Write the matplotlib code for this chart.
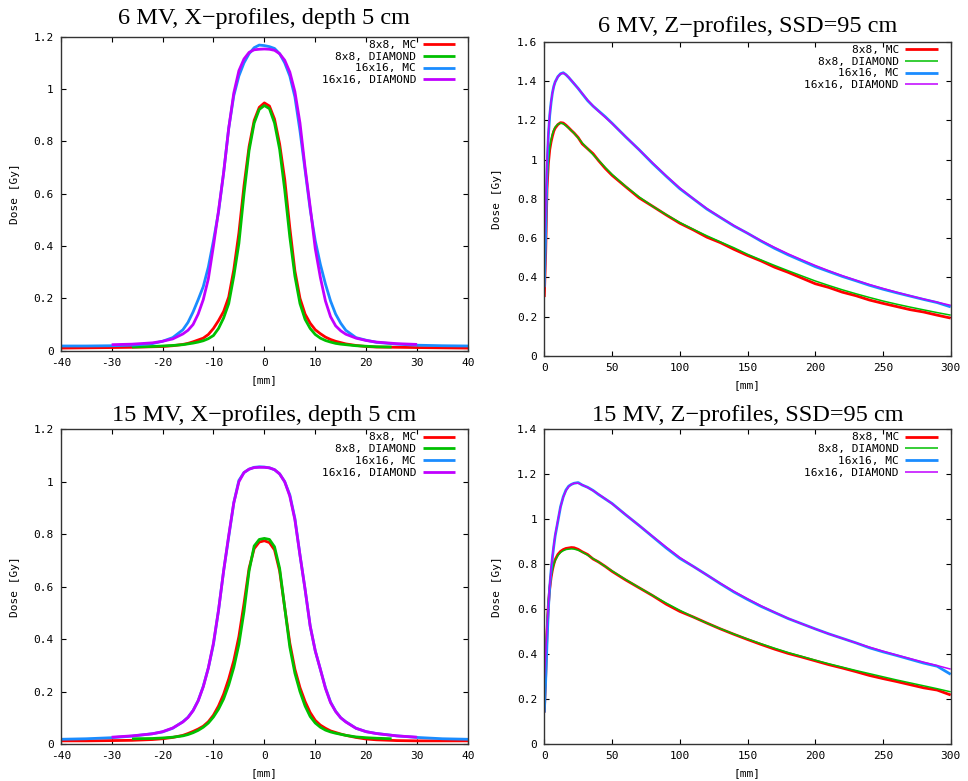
import numpy as np
import matplotlib
matplotlib.use("Agg")
import matplotlib.pyplot as plt
from matplotlib.ticker import FixedLocator, FuncFormatter

plt.rcParams['axes.unicode_minus'] = False

# ---------------- data ----------------
SERIES = ["8x8, MC", "8x8, DIAMOND", "16x16, MC", "16x16, DIAMOND"]
COLORS = ["#ff0000", "#00c000", "#1a8cff", "#c000ff"]

# X-profile grids (mm)
X_MC = [-40, -35, -30, -26, -22, -20, -18, -16, -15, -14, -13, -12, -11, -10, -9, -8, -7, -6, -5, -4, -3, -2, -1,
        0, 1, 2, 3, 4, 5, 6, 7, 8, 9, 10, 11, 12, 13, 14, 15, 16, 18, 20, 22, 26, 30, 35, 40]
X_DIA8 = [-26, -22, -20, -18, -16, -15, -14, -13, -12, -11, -10, -9, -8, -7, -6, -5, -4, -3, -2, -1,
          0, 1, 2, 3, 4, 5, 6, 7, 8, 9, 10, 11, 12, 13, 14, 15, 16, 18, 20, 22, 25]
X_DIA16 = [-30, -26, -22, -20, -18, -16, -15, -14, -13, -12, -11, -10, -9, -8, -7, -6, -5, -4, -3, -2, -1,
           0, 1, 2, 3, 4, 5, 6, 7, 8, 9, 10, 11, 12, 13, 14, 15, 16, 18, 20, 22, 26, 30]

# 6 MV X-profiles
x6_mc8 = [0.010, 0.011, 0.012, 0.013, 0.015, 0.016, 0.019, 0.024, 0.028, 0.034, 0.041, 0.048, 0.062, 0.085,
          0.115, 0.150, 0.205, 0.310, 0.450, 0.630, 0.780, 0.880, 0.930, 0.947, 0.935, 0.885, 0.790, 0.655,
          0.470, 0.305, 0.200, 0.140, 0.105, 0.080, 0.065, 0.052, 0.043, 0.036, 0.031, 0.026, 0.020, 0.016,
          0.014, 0.013, 0.012, 0.011, 0.010]
x6_dia8 = [0.014, 0.016, 0.018, 0.020, 0.023, 0.026, 0.029, 0.033, 0.038, 0.046, 0.058, 0.085, 0.125, 0.180,
           0.285, 0.410, 0.600, 0.765, 0.870, 0.922, 0.937, 0.925, 0.870, 0.770, 0.615, 0.435, 0.285, 0.180,
           0.120, 0.085, 0.062, 0.048, 0.039, 0.033, 0.028, 0.025, 0.023, 0.019, 0.017, 0.015, 0.014]
x6_mc16 = [0.018, 0.018, 0.019, 0.021, 0.027, 0.036, 0.050, 0.080, 0.108, 0.148, 0.195, 0.245, 0.320, 0.420,
           0.530, 0.680, 0.850, 0.975, 1.050, 1.100, 1.135, 1.158, 1.168, 1.166, 1.162, 1.155, 1.135, 1.100,
           1.050, 0.970, 0.840, 0.690, 0.540, 0.420, 0.330, 0.255, 0.190, 0.140, 0.105, 0.078, 0.050, 0.040,
           0.032, 0.025, 0.021, 0.019, 0.018]
x6_dia16 = [0.023, 0.025, 0.030, 0.036, 0.045, 0.064, 0.078, 0.100, 0.140, 0.195, 0.275, 0.400, 0.535, 0.680,
            0.850, 0.985, 1.070, 1.115, 1.140, 1.150, 1.152, 1.153, 1.152, 1.148, 1.135, 1.110, 1.065, 0.990,
            0.870, 0.700, 0.550, 0.390, 0.280, 0.190, 0.130, 0.095, 0.076, 0.063, 0.048, 0.039, 0.033, 0.027,
            0.024]

# 15 MV X-profiles
x15_mc8 = [0.012, 0.012, 0.013, 0.014, 0.017, 0.020, 0.025, 0.033, 0.040, 0.048, 0.057, 0.068, 0.085, 0.110,
           0.145, 0.190, 0.248, 0.318, 0.410, 0.535, 0.670, 0.745, 0.770, 0.775, 0.768, 0.740, 0.660, 0.520,
           0.385, 0.285, 0.215, 0.162, 0.120, 0.090, 0.072, 0.060, 0.050, 0.044, 0.038, 0.033, 0.025, 0.019,
           0.016, 0.013, 0.012, 0.012, 0.012]
x15_dia8 = [0.020, 0.021, 0.023, 0.026, 0.031, 0.036, 0.043, 0.052, 0.064, 0.080, 0.103, 0.133, 0.172, 0.225,
            0.292, 0.380, 0.505, 0.660, 0.755, 0.780, 0.784, 0.780, 0.752, 0.670, 0.520, 0.370, 0.270, 0.200,
            0.145, 0.105, 0.080, 0.064, 0.053, 0.046, 0.041, 0.037, 0.033, 0.027, 0.024, 0.022, 0.020]
x15_mc16 = [0.018, 0.020, 0.024, 0.030, 0.039, 0.046, 0.060, 0.085, 0.102, 0.128, 0.165, 0.220, 0.290, 0.380,
            0.510, 0.660, 0.790, 0.920, 1.005, 1.035, 1.048, 1.055, 1.057, 1.056, 1.053, 1.046, 1.030, 1.000,
            0.950, 0.860, 0.720, 0.590, 0.450, 0.355, 0.285, 0.215, 0.160, 0.125, 0.100, 0.085, 0.060, 0.047,
            0.040, 0.031, 0.025, 0.020, 0.018]
x15_dia16 = [0.026, 0.031, 0.039, 0.047, 0.061, 0.084, 0.101, 0.127, 0.165, 0.218, 0.290, 0.385, 0.510, 0.660,
             0.795, 0.920, 1.000, 1.035, 1.048, 1.054, 1.055, 1.055, 1.053, 1.046, 1.030, 1.000, 0.945, 0.855,
             0.720, 0.590, 0.450, 0.355, 0.285, 0.212, 0.158, 0.124, 0.100, 0.084, 0.060, 0.047, 0.040, 0.031,
             0.026]

# Z-profile grid (mm depth)
Z = [0, 1, 2, 3, 4, 5, 6, 7, 8, 10, 12, 14, 16, 18, 20, 22, 25, 28, 32, 36, 40, 45, 50,
     60, 70, 80, 90, 100, 110, 120, 130, 140, 150, 160, 170, 180, 190, 200,
     210, 220, 230, 240, 250, 260, 270, 280, 290, 300]

# 6 MV Z-profiles
z6_mc8 = [0.30, 0.52, 0.85, 0.98, 1.05, 1.09, 1.12, 1.145, 1.16, 1.178, 1.188, 1.186, 1.175, 1.162, 1.148,
          1.135, 1.112, 1.080, 1.055, 1.030, 0.995, 0.955, 0.920,
          0.862, 0.805, 0.762, 0.718, 0.676, 0.642, 0.605, 0.577, 0.543, 0.512, 0.484, 0.452, 0.426, 0.397,
          0.368, 0.349, 0.325, 0.307, 0.285, 0.268, 0.252, 0.236, 0.224, 0.208, 0.193]
z6_dia8 = [0.55, 0.70, 0.88, 0.99, 1.06, 1.10, 1.13, 1.15, 1.165, 1.180, 1.186, 1.182, 1.172, 1.160, 1.147,
           1.134, 1.110, 1.085, 1.055, 1.025, 0.997, 0.960, 0.925,
           0.864, 0.810, 0.762, 0.720, 0.680, 0.645, 0.612, 0.581, 0.551, 0.518, 0.489, 0.461, 0.434, 0.408,
           0.382, 0.359, 0.337, 0.317, 0.298, 0.280, 0.264, 0.249, 0.235, 0.221, 0.208]
z6_mc16 = [0.35, 0.62, 0.95, 1.12, 1.225, 1.29, 1.34, 1.373, 1.395, 1.422, 1.437, 1.442, 1.432, 1.418, 1.402,
           1.386, 1.362, 1.335, 1.300, 1.272, 1.248, 1.218, 1.185,
           1.116, 1.050, 0.980, 0.915, 0.852, 0.800, 0.748, 0.705, 0.662, 0.625, 0.585, 0.548, 0.515, 0.485,
           0.455, 0.430, 0.405, 0.383, 0.360, 0.340, 0.322, 0.305, 0.288, 0.272, 0.250]
z6_dia16 = [0.58, 0.75, 1.00, 1.14, 1.23, 1.295, 1.34, 1.372, 1.395, 1.422, 1.436, 1.440, 1.432, 1.419, 1.403,
            1.387, 1.362, 1.337, 1.303, 1.273, 1.246, 1.215, 1.184,
            1.117, 1.050, 0.983, 0.917, 0.856, 0.801, 0.751, 0.706, 0.664, 0.625, 0.588, 0.553, 0.520, 0.490,
            0.461, 0.434, 0.409, 0.386, 0.364, 0.344, 0.325, 0.307, 0.290, 0.274, 0.258]

# 15 MV Z-profiles
z15_mc8 = [0.14, 0.30, 0.50, 0.62, 0.69, 0.74, 0.775, 0.80, 0.82, 0.843, 0.857, 0.865, 0.870, 0.872, 0.874,
           0.873, 0.866, 0.855, 0.843, 0.823, 0.810, 0.790, 0.768,
           0.730, 0.695, 0.660, 0.622, 0.590, 0.565, 0.538, 0.512, 0.488, 0.465, 0.443, 0.422, 0.403, 0.387,
           0.370, 0.353, 0.338, 0.322, 0.305, 0.291, 0.278, 0.264, 0.250, 0.240, 0.218]
z15_dia8 = [0.26, 0.40, 0.54, 0.64, 0.70, 0.745, 0.775, 0.80, 0.815, 0.838, 0.852, 0.860, 0.865, 0.867, 0.868,
            0.867, 0.862, 0.854, 0.840, 0.825, 0.810, 0.790, 0.770,
            0.732, 0.696, 0.661, 0.627, 0.595, 0.565, 0.538, 0.513, 0.489, 0.467, 0.446, 0.426, 0.407, 0.390,
            0.373, 0.357, 0.342, 0.327, 0.313, 0.299, 0.285, 0.272, 0.259, 0.246, 0.232]
z15_mc16 = [0.14, 0.28, 0.45, 0.60, 0.70, 0.77, 0.83, 0.88, 0.925, 0.99, 1.056, 1.10, 1.13, 1.147, 1.155,
            1.160, 1.163, 1.152, 1.142, 1.128, 1.110, 1.090, 1.070,
            1.020, 0.972, 0.922, 0.872, 0.826, 0.790, 0.752, 0.713, 0.676, 0.643, 0.612, 0.585, 0.558, 0.535,
            0.512, 0.490, 0.470, 0.450, 0.428, 0.410, 0.394, 0.377, 0.360, 0.346, 0.310]
z15_dia16 = [0.29, 0.40, 0.52, 0.62, 0.71, 0.78, 0.835, 0.885, 0.93, 0.995, 1.055, 1.098, 1.127, 1.145, 1.155,
             1.160, 1.160, 1.153, 1.141, 1.127, 1.112, 1.091, 1.069,
             1.021, 0.972, 0.924, 0.876, 0.830, 0.790, 0.752, 0.715, 0.679, 0.646, 0.615, 0.586, 0.559, 0.535,
             0.512, 0.490, 0.470, 0.450, 0.431, 0.413, 0.396, 0.380, 0.364, 0.349, 0.333]

TITLES = ["6 MV, X\u2212profiles, depth 5 cm", "6 MV, Z\u2212profiles, SSD=95 cm",
          "15 MV, X\u2212profiles, depth 5 cm", "15 MV, Z\u2212profiles, SSD=95 cm"]
XTICKS_X = [-40, -30, -20, -10, 0, 10, 20, 30, 40]
XTICKS_Z = [0, 50, 100, 150, 200, 250, 300]
YTICKS = [[0, 0.2, 0.4, 0.6, 0.8, 1, 1.2],
          [0, 0.2, 0.4, 0.6, 0.8, 1, 1.2, 1.4, 1.6],
          [0, 0.2, 0.4, 0.6, 0.8, 1, 1.2],
          [0, 0.2, 0.4, 0.6, 0.8, 1, 1.2, 1.4]]

# ---------------- figure ----------------
fig = plt.figure(figsize=(9.68, 7.81), dpi=100)
W, H = 968.0, 781.0
# (left px, top px, right px, bottom px)
boxes = [(60.7, 36.7, 468.0, 350.7), (544.3, 41.7, 950.7, 356.0),
         (60.7, 429.3, 468.0, 744.0), (544.3, 429.3, 950.7, 744.0)]
title_pads = [9.0, 6.8, 6.2, 6.2]
ylabel_x = [14.5, 497.5, 14.5, 497.5]
xlabel_y = [380.0, 385.0, 772.7, 772.7]
mono = "DejaVu Sans Mono"

panels = [
    dict(kind="X", data=[(X_MC, x6_mc8), (X_DIA8, x6_dia8), (X_MC, x6_mc16), (X_DIA16, x6_dia16)]),
    dict(kind="Z", data=[(Z, z6_mc8), (Z, z6_dia8), (Z, z6_mc16), (Z, z6_dia16)]),
    dict(kind="X", data=[(X_MC, x15_mc8), (X_DIA8, x15_dia8), (X_MC, x15_mc16), (X_DIA16, x15_dia16)]),
    dict(kind="Z", data=[(Z, z15_mc8), (Z, z15_dia8), (Z, z15_mc16), (Z, z15_dia16)]),
]

for i, p in enumerate(panels):
    l, t, r, b = boxes[i]
    ax = fig.add_axes([l / W, 1 - b / H, (r - l) / W, (b - t) / H])
    if p["kind"] == "X":
        widths = [2.0, 2.0, 2.0, 2.0]
    else:
        widths = [2.0, 1.1, 2.0, 1.1]
    for k, (xs, ys) in enumerate(p["data"]):
        ax.plot(xs, ys, color=COLORS[k], lw=widths[k], label=SERIES[k],
                solid_joinstyle="round", solid_capstyle="butt")
    if p["kind"] == "X":
        ax.set_xlim(-40, 40)
        ax.xaxis.set_major_locator(FixedLocator(XTICKS_X))
    else:
        ax.set_xlim(0, 300)
        ax.xaxis.set_major_locator(FixedLocator(XTICKS_Z))
    yt = YTICKS[i]
    ax.set_ylim(yt[0], yt[-1])
    ax.yaxis.set_major_locator(FixedLocator(yt))
    fmt = FuncFormatter(lambda v, pos: f"{v:g}")
    ax.xaxis.set_major_formatter(fmt)
    ax.yaxis.set_major_formatter(fmt)
    ax.tick_params(direction="in", length=3.5, width=0.8, top=True, right=True,
                   labelsize=8, pad=5, colors="black")
    for lab in ax.get_xticklabels() + ax.get_yticklabels():
        lab.set_family(mono)
    for s in ax.spines.values():
        s.set_color("#333333")
        s.set_linewidth(1.0)
    ax.set_title(TITLES[i], family="Liberation Serif", fontsize=17.5, pad=title_pads[i])
    ax.set_ylabel("Dose [Gy]", family=mono, fontsize=8, va="center")
    ax.set_xlabel("[mm]", family=mono, fontsize=8, va="center")
    ax.yaxis.set_label_coords((ylabel_x[i] - l) / (r - l), 0.5)
    ax.xaxis.set_label_coords(0.5, (b - xlabel_y[i]) / (b - t))
    leg = ax.legend(loc="upper right", bbox_to_anchor=(0.968, 0.99), frameon=False,
                    markerfirst=False, prop=dict(family=mono, size=8), handlelength=2.9,
                    handletextpad=0.6, labelspacing=0.16, borderpad=0, borderaxespad=0)

fig.savefig("out.png", dpi=100)
